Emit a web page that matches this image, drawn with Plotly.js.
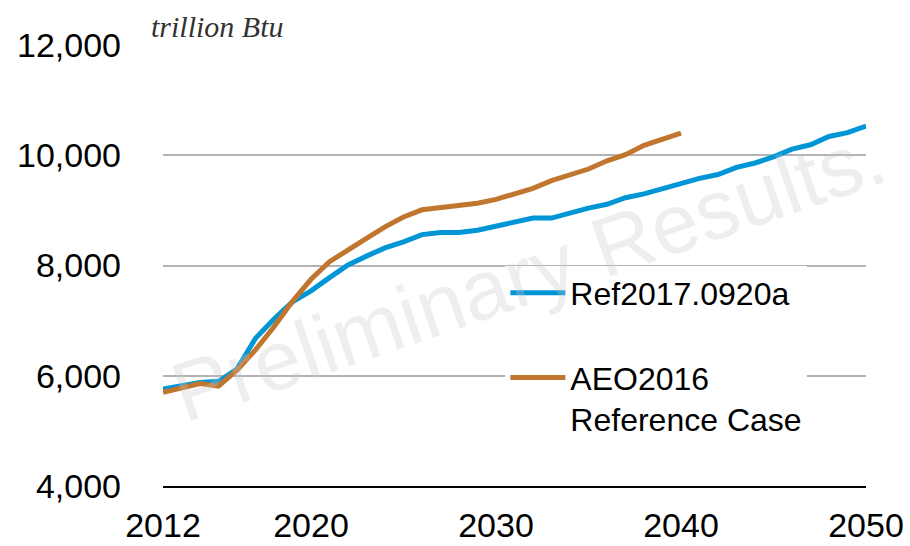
<!DOCTYPE html>
<html>
<head>
<meta charset="utf-8">
<script src="https://cdn.plot.ly/plotly-3.0.1.min.js"></script>
<style>
  html, body { margin: 0; padding: 0; background: #fff; }
  #chart { width: 910px; height: 546px; }
</style>
</head>
<body>
<div id="chart"></div>
<script>
// years on the x axis
const yearsRef = [2012, 2013, 2014, 2015, 2016, 2017, 2018, 2019, 2020, 2021,
  2022, 2023, 2024, 2025, 2026, 2027, 2028, 2029, 2030, 2031,
  2032, 2033, 2034, 2035, 2036, 2037, 2038, 2039, 2040, 2041,
  2042, 2043, 2044, 2045, 2046, 2047, 2048, 2049, 2050];
const yearsAeo = yearsRef.slice(0, 29); // 2012 - 2040

// trillion Btu
const ref2017 = [5760, 5820, 5880, 5900, 6120, 6680, 7030, 7340, 7540, 7780,
  8010, 8170, 8320, 8430, 8560, 8600, 8600, 8640, 8710, 8790,
  8860, 8860, 8960, 9040, 9110, 9230, 9300, 9400, 9500, 9580,
  9650, 9780, 9860, 9970, 10110, 10190, 10340, 10410, 10530];
const aeo2016 = [5700, 5780, 5860, 5810, 6100, 6470, 6890, 7350, 7750, 8070,
  8290, 8490, 8700, 8880, 9010, 9050, 9090, 9130, 9200, 9300,
  9400, 9540, 9640, 9750, 9900, 10010, 10180, 10280, 10400];

const tickYears = [2012, 2020, 2030, 2040, 2050];
const tickVals = [4000, 6000, 8000, 10000, 12000];
const tickText = ['4,000', '6,000', '8,000', '10,000', '12,000'];

const axisFont = { family: 'Liberation Sans, Arial', size: 34, color: '#000' };

const data = [
  {
    x: yearsRef, y: ref2017,
    name: 'Ref2017.0920a',
    legendgroup: 'a',
    type: 'scatter', mode: 'lines',
    line: { color: '#0096d6', width: 5 }
  },
  {
    x: yearsAeo, y: aeo2016,
    name: 'AEO2016<br>Reference Case',
    legendgroup: 'b',
    type: 'scatter', mode: 'lines',
    line: { color: '#c0762e', width: 5 }
  }
];

const layout = {
  width: 910,
  height: 546,
  margin: { l: 163, r: 44, t: 45, b: 60 },
  paper_bgcolor: '#fff',
  plot_bgcolor: '#fff',
  showlegend: true,
  legend: {
    x: 0.487, xanchor: 'left',
    y: 0.5, yanchor: 'top',
    bgcolor: '#fff',
    font: { family: 'Liberation Sans, Arial', size: 32, color: '#000' },
    tracegroupgap: 40,
    traceorder: 'grouped',
    valign: 'top',
    itemwidth: 55
  },
  xaxis: {
    range: [2012, 2050],
    tickvals: tickYears,
    ticks: '',
    showgrid: false,
    zeroline: false,
    showline: true,
    linecolor: '#000',
    linewidth: 2,
    tickfont: axisFont,
    ticklabelstandoff: 8
  },
  yaxis: {
    range: [4000, 12000],
    tickvals: tickVals,
    ticktext: tickText,
    ticks: '',
    showgrid: true,
    gridcolor: '#b3b3b3',
    gridwidth: 2,
    zeroline: false,
    showline: false,
    tickfont: axisFont,
    ticklabelstandoff: 41
  },
  annotations: [
    {
      text: '<i>trillion Btu</i>',
      xref: 'paper', yref: 'paper',
      x: -0.02, y: 1.0, xanchor: 'left', yanchor: 'bottom',
      showarrow: false,
      font: { family: 'Liberation Serif, Times New Roman', size: 30, color: '#333' }
    },
    {
      // faint watermark over the plot
      text: 'Preliminary Results.',
      xref: 'paper', yref: 'paper',
      x: 0.52, y: 0.48,
      showarrow: false,
      textangle: -19,
      font: { family: 'Liberation Sans, Arial', size: 84, color: 'rgba(200,200,200,0.3)' }
    }
  ]
};

Plotly.newPlot('chart', data, layout, { displayModeBar: false, responsive: false });
</script>
</body>
</html>
